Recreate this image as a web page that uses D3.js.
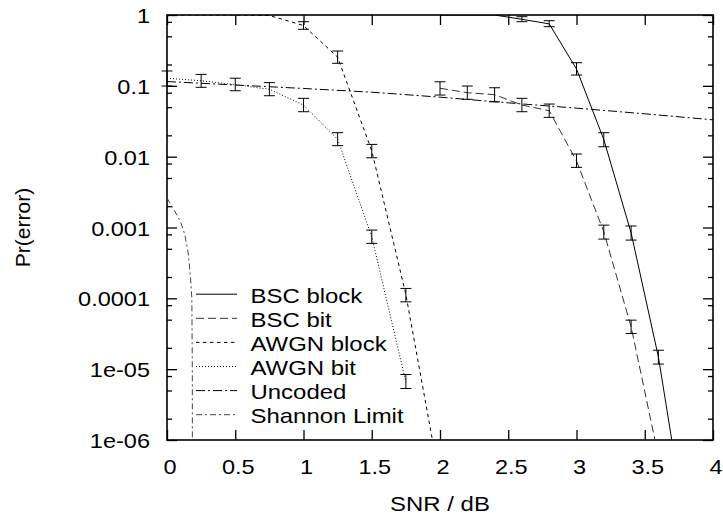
<!DOCTYPE html>
<html><head><meta charset="utf-8">
<script src="https://cdn.jsdelivr.net/npm/d3@7/dist/d3.min.js"></script>
<style>body{margin:0;background:#fff}svg{display:block}</style>
</head><body><svg id="c" width="723" height="518"></svg>
<script>
const xTicks = [0, 0.5, 1, 1.5, 2, 2.5, 3, 3.5, 4];
const xTickLabels = ["0", "0.5", "1", "1.5", "2", "2.5", "3", "3.5", "4"];
const yTicks = [1, 0.1, 0.01, 0.001, 0.0001, 1e-5, 1e-6];
const yTickLabels = ["1", "0.1", "0.01", "0.001", "0.0001", "1e-05", "1e-06"];
const yMinorTicks = [0.8, 0.5, 0.2, 0.08, 0.05, 0.02, 0.008, 0.005, 0.002, 8e-4, 5e-4, 2e-4, 8e-5, 5e-5, 2e-5, 8e-6, 5e-6, 2e-6];

const bscX = [2.0, 2.2, 2.4, 2.6, 2.8, 3.0, 3.2, 3.4, 3.6, 3.8];
const bscBlock = [1, 1, 1, 0.87, 0.75, 0.173, 0.0175, 8.4e-4, 1.49e-5, 6e-8];
const bscBlockLo = [null, null, null, 0.804, 0.684, 0.142, 0.0138, 6.64e-4, 1.18e-5, null];
const bscBlockHi = [null, null, null, 0.946, 0.831, 0.212, 0.0218, 1.05e-3, 1.85e-5, null];
const bscBit = [0.0924, 0.080, 0.075, 0.0536, 0.0445, 0.0087, 8.7e-4, 3.97e-5, 5.9e-7, null];
const bscBitLo = [0.0741, 0.0645, 0.0595, 0.0431, 0.0359, 0.00706, 6.86e-4, 3.19e-5, null, null];
const bscBitHi = [0.114, 0.0994, 0.094, 0.0666, 0.0553, 0.0109, 1.08e-3, 4.92e-5, null, null];

const awgnX = [0, 0.25, 0.5, 0.75, 1.0, 1.25, 1.5, 1.75, 2.0];
const awgnBlock = [1, 1, 1, 0.985, 0.71, 0.254, 0.0121, 1.13e-4, 2.6e-7];
const awgnBlockLo = [null, null, null, null, 0.628, 0.208, 0.00964, 8.93e-5, null];
const awgnBlockHi = [null, null, null, null, 0.804, 0.310, 0.0149, 1.38e-4, null];
const awgnBit = [0.128, 0.118, 0.104, 0.0894, 0.0536, 0.0176, 7.4e-4, 6.6e-6, null];
const awgnBitLo = [0.0994, 0.0953, 0.0853, 0.0725, 0.0431, 0.0143, 5.96e-4, 5.33e-6, null];
const awgnBitHi = [0.162, 0.145, 0.128, 0.111, 0.0666, 0.0218, 9.2e-4, 8.4e-6, null];

const uncodedX = [0, 0.5, 1, 1.5, 2, 2.5, 3, 3.5, 4];
const uncoded = [0.115, 0.1028, 0.0918, 0.0813, 0.0692, 0.0575, 0.0484, 0.0403, 0.0331];

const shannonX = [0, 0.05, 0.1, 0.13, 0.155, 0.172, 0.182, 0.1855, 0.1858];
const shannon = [0.0026, 0.0018, 0.0012, 0.0008, 0.00044, 0.0002, 0.0001, 1e-5, 1e-6];

const legendNames = ["BSC block", "BSC bit", "AWGN block", "AWGN bit", "Uncoded", "Shannon Limit"];

const FONT = "'Liberation Sans', Arial, Helvetica, sans-serif";
const L = 167, R = 713, T = 15, B = 440;
const svg = d3.select("#c");
const x = d3.scaleLinear().domain([0, 4]).range([L, R]);
const y = d3.scaleLog().domain([1e-6, 1]).range([B, T]);

function stretch(sel, k) {
  sel.each(function () {
    const w = this.getComputedTextLength();
    d3.select(this).attr("textLength", w * k).attr("lengthAdjust", "spacingAndGlyphs");
  });
}

svg.append("defs").append("clipPath").attr("id", "clip")
  .append("rect").attr("x", L).attr("y", T).attr("width", R - L).attr("height", B - T);

// axes
const gB = svg.append("g").attr("transform", `translate(0,${B})`)
  .call(d3.axisBottom(x).tickValues(xTicks).tickSizeInner(-10).tickSizeOuter(0)
    .tickFormat((d, i) => xTickLabels[i]));
const gT = svg.append("g").attr("transform", `translate(0,${T})`)
  .call(d3.axisTop(x).tickValues(xTicks).tickSizeInner(-10).tickSizeOuter(0).tickFormat(""));
const gL = svg.append("g").attr("transform", `translate(${L},0)`)
  .call(d3.axisLeft(y).tickValues(yTicks).tickSizeInner(-10).tickSizeOuter(0)
    .tickFormat((d, i) => yTickLabels[i]));
const gLm = svg.append("g").attr("transform", `translate(${L},0)`)
  .call(d3.axisLeft(y).tickValues(yMinorTicks).tickSizeInner(-5).tickSizeOuter(0).tickFormat(""));
const gR = svg.append("g").attr("transform", `translate(${R},0)`)
  .call(d3.axisRight(y).tickValues(yTicks).tickSizeInner(-10).tickSizeOuter(0).tickFormat(""));
const gRm = svg.append("g").attr("transform", `translate(${R},0)`)
  .call(d3.axisRight(y).tickValues(yMinorTicks).tickSizeInner(-5).tickSizeOuter(0).tickFormat(""));

[gB, gT, gL, gLm, gR, gRm].forEach(g => {
  g.select(".domain").remove();
  g.selectAll(".tick line").attr("stroke", "#000").attr("stroke-width", 1.3);
});
gB.selectAll(".tick text").attr("y", 34).attr("dy", 0).attr("x", 2.5)
  .attr("font-size", 21).attr("font-family", FONT).attr("fill", "#000").call(stretch, 1.12);
gL.selectAll(".tick text").attr("x", -17).attr("dy", "0.36em")
  .attr("font-size", 21).attr("font-family", FONT).attr("fill", "#000").call(stretch, 1.12);

// border
svg.append("rect").attr("x", L).attr("y", T).attr("width", R - L).attr("height", B - T)
  .attr("fill", "none").attr("stroke", "#000").attr("stroke-width", 1.6);

// series
const series = [
  { xs: bscX, ys: bscBlock, lo: bscBlockLo, hi: bscBlockHi, color: "#000", dash: null },
  { xs: bscX, ys: bscBit, lo: bscBitLo, hi: bscBitHi, color: "#333", dash: "8,4" },
  { xs: awgnX, ys: awgnBlock, lo: awgnBlockLo, hi: awgnBlockHi, color: "#000", dash: "3.5,3.5" },
  { xs: awgnX, ys: awgnBit, lo: awgnBitLo, hi: awgnBitHi, color: "#000", dash: "1,2" },
  { xs: uncodedX, ys: uncoded, lo: null, hi: null, color: "#000", dash: "9,3,2,3" },
  { xs: shannonX, ys: shannon, lo: null, hi: null, color: "#444", dash: "6,3,2,3" }
];

const line = d3.line().defined(d => d.v != null).x(d => x(d.x)).y(d => y(d.v));
const plot = svg.append("g").attr("clip-path", "url(#clip)");
series.forEach(s => {
  const pts = s.xs.map((xv, i) => ({ x: xv, v: s.ys[i] }));
  plot.append("path").datum(pts).attr("d", line).attr("fill", "none")
    .attr("stroke", s.color).attr("stroke-width", 1)
    .attr("stroke-dasharray", s.dash);
});

// error bars
const eb = svg.append("g").attr("stroke", "#000").attr("stroke-width", 1);
series.forEach(s => {
  if (!s.lo) return;
  s.xs.forEach((xv, i) => {
    const lo = s.lo[i], hi = s.hi[i];
    if (lo == null || hi == null) return;
    const px = x(xv), y1 = y(lo), y2 = y(hi);
    eb.append("line").attr("x1", px).attr("x2", px).attr("y1", y1).attr("y2", y2);
    eb.append("line").attr("x1", px - 5.5).attr("x2", px + 5.5).attr("y1", y1).attr("y2", y1);
    eb.append("line").attr("x1", px - 5.5).attr("x2", px + 5.5).attr("y1", y2).attr("y2", y2);
  });
});

// legend
const lg = svg.append("g");
legendNames.forEach((name, i) => {
  const base = 302.7 + i * 24.1;
  const s = series[i];
  lg.append("line").attr("x1", 196).attr("x2", 237).attr("y1", base - 8.5).attr("y2", base - 8.5)
    .attr("stroke", s.color).attr("stroke-width", 1).attr("stroke-dasharray", s.dash);
  lg.append("text").attr("x", 250.5).attr("y", base).text(name)
    .attr("font-size", 21).attr("font-family", FONT).attr("fill", "#000").call(stretch, 1.14);
});

// axis titles
svg.append("text").attr("x", 440).attr("y", 511).attr("text-anchor", "middle")
  .attr("font-size", 21).attr("font-family", FONT).text("SNR / dB").call(stretch, 1.14);
svg.append("text").attr("transform", "translate(29.5,227.5) rotate(-90)").attr("text-anchor", "middle")
  .attr("font-size", 21).attr("font-family", FONT).text("Pr(error)");
</script></body></html>
